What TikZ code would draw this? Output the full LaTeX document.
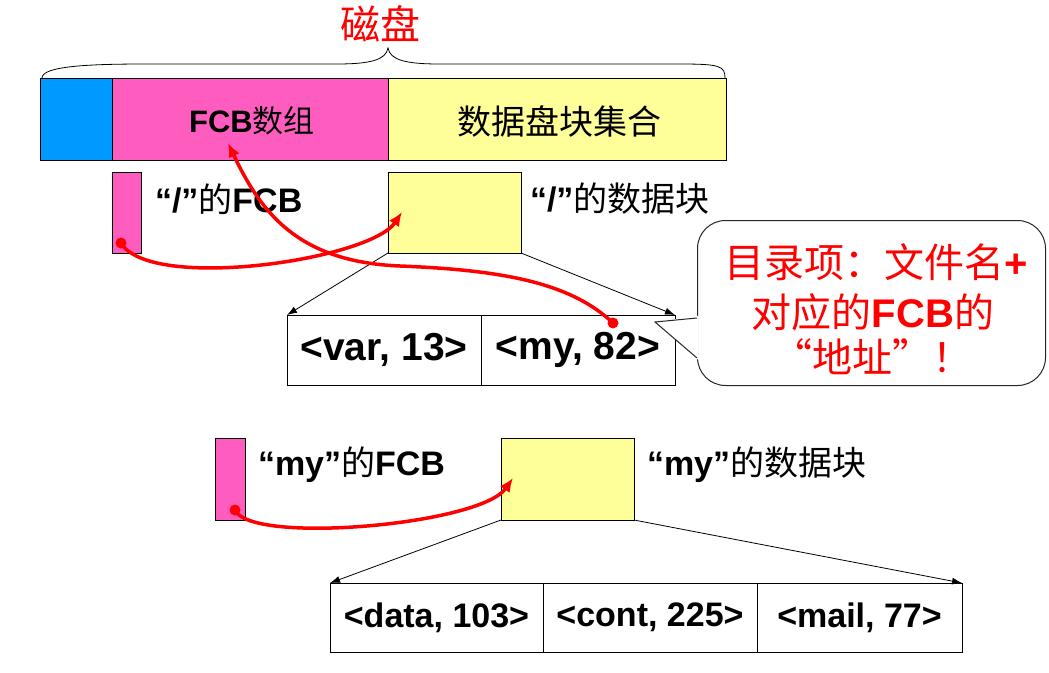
\documentclass[tikz,border=0pt]{standalone}
\usepackage{fontspec}
\setmainfont{Liberation Sans}
\newfontfamily\cjk{Noto Sans CJK SC}
\usetikzlibrary{arrows.meta}
\definecolor{dblue}{HTML}{0099FF}
\definecolor{dpink}{HTML}{FF5CC0}
\definecolor{dyellow}{HTML}{FFFF99}
\newcommand{\zh}[1]{{\cjk\mdseries #1}}
\newcommand{\fs}[1]{\fontsize{#1}{#1}\selectfont}
\begin{document}
\begin{tikzpicture}[x=1pt,y=-1pt,
  cell/.style={draw=black, line width=1pt, inner sep=0pt, outer sep=0pt, anchor=north west},
  lbl/.style={inner sep=0pt, outer sep=0pt},
  redlink/.style={draw=red, line width=3.5pt, -{Latex[length=14pt,width=12pt]}},
  reddot/.style={circle, fill=red, inner sep=0pt, minimum size=11pt},
  fan/.style={draw=black, line width=0.8pt, -{Latex[length=10pt,width=7pt]}},
  brace/.style={draw=black, line width=0.8pt},
]
\useasboundingbox (0,0) rectangle (1049,672);

% disk bar
\node[cell, fill=dblue, minimum width=72pt, minimum height=82pt] (boot) at (40,78) {};
\node[cell, fill=dpink, minimum width=276pt, minimum height=82pt] (fcbarr) at (112,78) {};
\node[cell, fill=dyellow, minimum width=338pt, minimum height=82pt] (dataset) at (388,78) {};
\node[lbl] (fcbarrt) at (252,121) {\fs{31}\bfseries FCB\zh{数组}};
\node[lbl] (datasett) at (559,121) {\fs{34}\zh{数据盘块集合}};

% brace
\coordinate (bl) at (42,78);
\coordinate (bt) at (388,48);
\coordinate (br) at (725,78);
\draw[brace] (bl) .. controls (42,66) and (90,64) .. (146,64) -- (337,64)
  .. controls (370,64) and (386,60) .. (bt)
  .. controls (390,60) and (406,64) .. (439,64) -- (680,64)
  .. controls (720,64) and (725,66) .. (br);
\node[lbl, text=red] (disk) at (380,24) {\fs{40}\zh{磁盘}};

% root directory
\node[cell, fill=dpink, minimum width=29pt, minimum height=81pt] (rootfcb) at (112,172) {};
\node[lbl, anchor=west] (rootfcbt) at (155,199) {\fs{34}\bfseries “/”\zh{的}FCB};
\node[cell, fill=dyellow, minimum width=133pt, minimum height=81pt] (rootdata) at (388,172) {};
\node[lbl, anchor=west] (rootdatat) at (530,199) {\fs{34}\bfseries “/”\zh{的数据块}};

\node[cell, minimum width=194pt, minimum height=70pt] (var) at (287,315) {\fs{39}\bfseries <var, 13>};
\node[cell, minimum width=194pt, minimum height=70pt] (my) at (481,315) {\fs{39}\bfseries <my, 82>};
\draw[fan] (rootdata.south west) -- (var.north west);
\draw[fan] (rootdata.south east) -- (my.north east);

% callout
\node[draw=black!85, line width=1pt, rounded corners=28pt, fill=white, minimum width=348pt, minimum height=165pt, anchor=north west, inner sep=0pt] (callout) at (697,220) {};
\coordinate (tailtip) at (655,322);
\fill[white] (698.5,316) -- (tailtip) -- (698.5,360) -- cycle;
\draw[draw=black!85, line width=1pt] (697,318) -- (tailtip) -- (697,358);
\node[lbl, text=red] (note1) at (876,262) {\fs{40}\zh{目录项：文件名}\bfseries +};
\node[lbl, text=red] (note2) at (873,312) {\fs{40}\zh{对应的}\bfseries FCB\zh{的}};
\node[lbl, text=red] (note3) at (872,357) {\fs{40}\zh{“地址”！}};

% my directory
\node[cell, fill=dpink, minimum width=30pt, minimum height=82pt] (myfcb) at (215,438) {};
\node[lbl, anchor=west] (myfcbt) at (258,465) {\fs{34}\bfseries “my”\zh{的}FCB};
\node[cell, fill=dyellow, minimum width=133pt, minimum height=82pt] (mydata) at (501,438) {};
\node[lbl, anchor=west] (mydatat) at (647,465) {\fs{34}\bfseries “my”\zh{的数据块}};

\node[cell, minimum width=213pt, minimum height=69pt] (data) at (330,583) {\fs{34}\bfseries <data, 103>};
\node[cell, minimum width=214pt, minimum height=69pt] (cont) at (543,583) {\fs{34}\bfseries <cont, 225>};
\node[cell, minimum width=205pt, minimum height=69pt] (mail) at (757,583) {\fs{34}\bfseries <mail, 77>};
\draw[fan] (mydata.south west) -- (data.north west);
\draw[fan] (mydata.south east) -- (mail.north east);

% red links
\node[reddot] (d1) at (121,243) {};
\coordinate (a1) at (402,212);
\draw[redlink] (d1.center) .. controls (150,292) and (370,260) .. (a1);
\node[reddot] (d2) at (613,323) {};
\coordinate (a2) at (228,143);
\draw[redlink] (d2.center) .. controls (570,282) and (500,270) .. (400,266) .. controls (300,262) and (262,215) .. (a2);
\node[reddot] (d3) at (235,510) {};
\coordinate (a3) at (513,478);
\draw[redlink] (d3.center) .. controls (250,545) and (480,525) .. (a3);
\end{tikzpicture}
\end{document}
